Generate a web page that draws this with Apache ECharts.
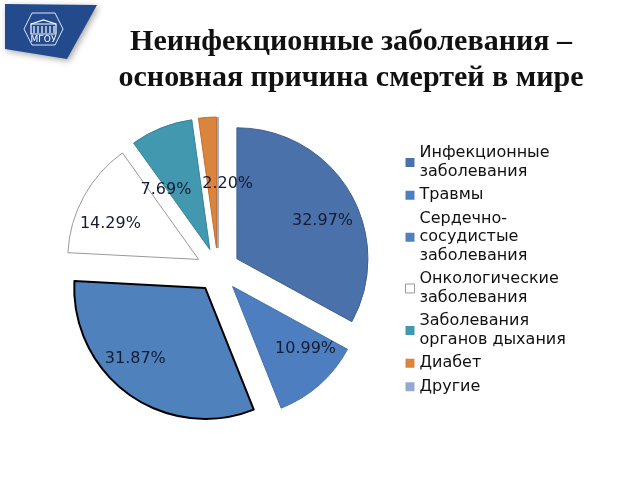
<!DOCTYPE html>
<html>
<head>
<meta charset="utf-8">
<script src="https://cdn.jsdelivr.net/npm/echarts@6/dist/echarts.min.js"></script>
<style>html,body{margin:0;padding:0;background:#fff;}#c{width:640px;height:480px;}</style>
</head>
<body>
<div id="c"></div>
<script>
var categories = ['Инфекционные заболевания', 'Травмы', 'Сердечно-сосудистые заболевания', 'Онкологические заболевания', 'Заболевания органов дыхания', 'Диабет', 'Другие'];
var legendLabels = ['Инфекционные\nзаболевания', 'Травмы', 'Сердечно-\nсосудистые\nзаболевания', 'Онкологические\nзаболевания', 'Заболевания\nорганов дыхания', 'Диабет', 'Другие'];
var values = [32.97, 10.99, 31.87, 14.29, 7.69, 2.20, 0];
var titleLines = ['Неинфекционные заболевания –', 'основная причина смертей в мире'];

var colors = ['#4a71a9', '#4d7fc0', '#4f81bd', '#ffffff', '#4198af', '#db843d', '#93a9cf'];
var borders = [
  {c: '#3d5f8f', w: 1}, {c: '#4270a8', w: 1}, {c: '#000000', w: 2}, {c: '#999999', w: 1},
  {c: '#35829a', w: 1}, {c: '#c0702c', w: 1}, {c: '#7f95bd', w: 1}
];

var chart = echarts.init(document.getElementById('c'), null, {renderer: 'canvas'});

var CENTER = [218, 270];
var R = 131;
var OFFSET = 22;

var pieData = categories.map(function (name, i) {
  var st = {color: colors[i], borderColor: borders[i].c, borderWidth: borders[i].w};
  return {name: name, value: values[i], selected: true, itemStyle: st, select: {itemStyle: st}, emphasis: {itemStyle: st}};
});
var labelData = categories.map(function (name, i) {
  return {name: name, value: values[i], selected: true, label: {show: values[i] > 0}};
});

// small label nudges mimicking the original "best fit" placement
var labelShift = {0: [0, 13], 1: [7, -12], 2: [-12, -10], 3: [-1, 12], 4: [-7, 33], 5: [18, 35]};

var logoCols = [];
for (var k = 0; k < 6; k++) {
  logoCols.push({type: 'line', shape: {x1: 34 + k * 4, y1: 26, x2: 34 + k * 4, y2: 33}, style: {stroke: '#ffffff', lineWidth: 1.2}});
}

chart.setOption({
  animation: false,
  color: colors,
  title: {
    text: titleLines.join('\n'),
    left: 346,
    top: 19,
    textAlign: 'center',
    textStyle: {fontFamily: 'Liberation Serif', fontWeight: 'bold', fontSize: 30, lineHeight: 36, color: '#111'}
  },
  legend: {
    orient: 'vertical',
    left: 400,
    top: 139,
    itemWidth: 9,
    itemHeight: 9,
    itemGap: 5,
    icon: 'rect',
    selectedMode: false,
    data: categories.map(function (n, i) {
      return {name: n, itemStyle: {color: colors[i], borderColor: i === 3 ? '#999' : colors[i], borderWidth: i === 3 ? 1 : 0}};
    }),
    formatter: function (name) { return legendLabels[categories.indexOf(name)]; },
    textStyle: {fontFamily: 'DejaVu Sans', fontSize: 16, lineHeight: 18.5, color: '#111', padding: [0, 0, 0, 0]}
  },
  graphic: [
    {type: 'polygon', shape: {points: [[5, 4], [97, 5], [67, 59], [5, 49]]}, style: {fill: '#234a8c', shadowBlur: 6, shadowColor: 'rgba(0,0,0,0.35)', shadowOffsetX: 2, shadowOffsetY: 2}},
    {type: 'polygon', shape: {points: [[32, 13], [55, 13], [63, 29], [55, 45], [32, 45], [24, 29]]}, style: {fill: 'none', stroke: '#dfe6f2', lineWidth: 1}},
    {type: 'rect', shape: {x: 31, y: 24, width: 25, height: 10}, style: {fill: 'none', stroke: '#ffffff', lineWidth: 1.2}},
    {type: 'polyline', shape: {points: [[31, 24], [43.5, 20], [56, 24]]}, style: {fill: 'none', stroke: '#ffffff', lineWidth: 1.2}}
  ].concat(logoCols).concat([
    {type: 'text', x: 43.5, y: 39.5, style: {text: 'МГОУ', fill: '#ffffff', font: '9px "DejaVu Sans"', textAlign: 'center', textVerticalAlign: 'middle'}}
  ]),
  series: [
    {
      type: 'pie',
      center: CENTER,
      radius: R,
      startAngle: 90,
      clockwise: true,
      selectedMode: 'multiple',
      selectedOffset: OFFSET,
      silent: true,
      label: {show: false},
      labelLine: {show: false},
      data: pieData
    },
    {
      type: 'pie',
      center: CENTER,
      radius: [62, R],
      startAngle: 90,
      clockwise: true,
      selectedMode: 'multiple',
      selectedOffset: OFFSET,
      silent: true,
      itemStyle: {color: 'rgba(0,0,0,0)', borderWidth: 0},
      select: {itemStyle: {color: 'rgba(0,0,0,0)', borderWidth: 0}},
      label: {
        show: true,
        position: 'inside',
        fontFamily: 'DejaVu Sans',
        fontSize: 16,
        color: '#141c33',
        formatter: function (p) { return p.value.toFixed(2) + '%'; }
      },
      labelLine: {show: false},
      labelLayout: function (params) {
        var s = labelShift[params.dataIndex];
        return s ? {dx: s[0], dy: s[1]} : {};
      },
      data: labelData
    }
  ]
});
</script>
</body>
</html>
